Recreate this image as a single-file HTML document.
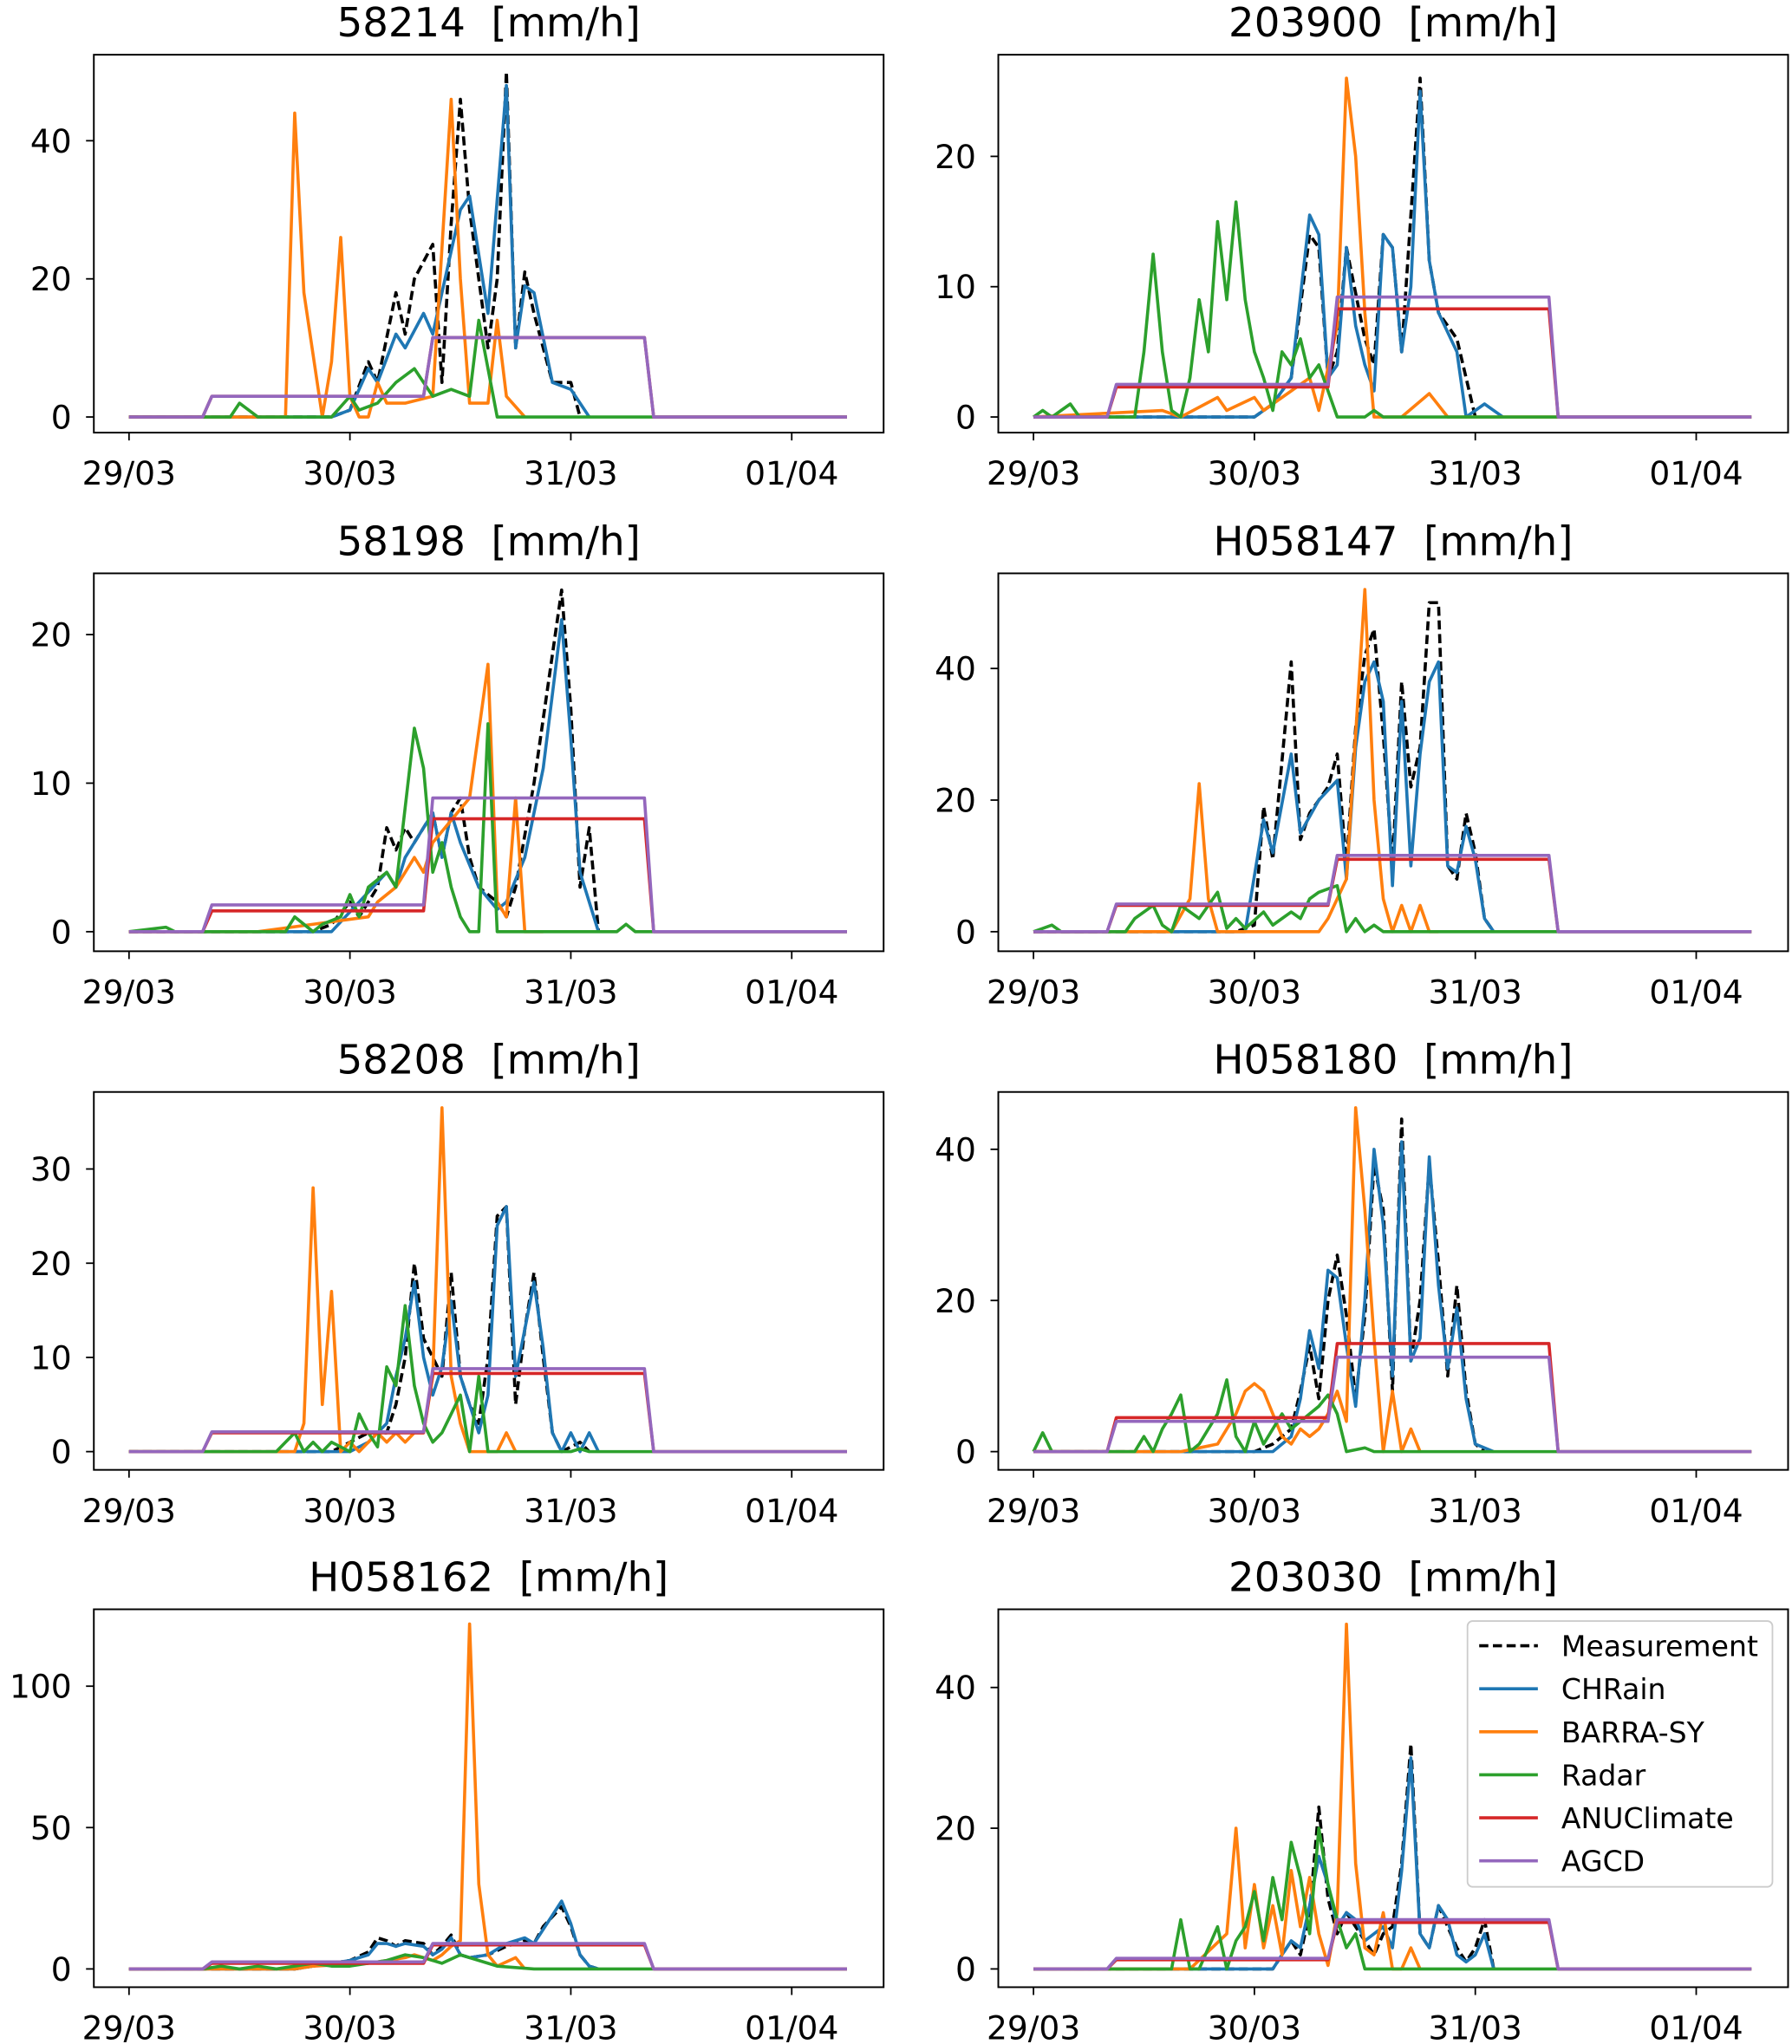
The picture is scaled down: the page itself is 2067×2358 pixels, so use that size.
<!DOCTYPE html>
<html><head><meta charset="utf-8"><style>
html,body{margin:0;padding:0;background:#fff;}
svg{display:block;font-family:"DejaVu Sans","Liberation Sans",sans-serif;}
</style></head><body>
<svg id="fig" width="2067" height="2358" viewBox="0 0 1375 1568.6" preserveAspectRatio="none" xmlns="http://www.w3.org/2000/svg"></svg>
<script>
// ---- data (hour since 29/03 00:00, mm/h) ----
const titles = ["58214","203900","58198","H058147","58208","H058180","H058162","203030"];
const yTicks = [[0,20,40],[0,10,20],[0,10,20],[0,20,40],[0,10,20,30],[0,20,40],[0,50,100],[0,20,40]];
const xTickLabels = ["29/03","30/03","31/03","01/04"];
const seriesNames = ["Measurement","CHRain","BARRA-SY","Radar","ANUClimate","AGCD"];

const agcdVals = [[3,11.5],[2.5,9.2],[1.8,9],[4.2,11.6],[2.1,8.8],[4,12.5],[2.5,9],[1.5,7]];
const anuVals  = [[3,11.5],[2.3,8.3],[1.4,7.6],[4,11],[2,8.3],[4.5,14.3],[2,8.5],[1.3,6.6]];

const meas = [
 [[0,0],[22,0],[24,1],[26,8],[27,5],[29,18],[30,12],[31,20],[33,25],[34,5],[35,28],[36,46],[37,30],[39,10],[40,20],[41,50],[42,10],[43,21],[44,15],[46,5],[48,5],[49,0]],
 [[0,0],[24,0],[26,1],[28,3],[30,14],[31,13],[32,3],[33,5],[34,13],[36,6],[37,4],[38,14],[39,13],[40,5],[42,26],[43,12],[44,8],[46,6],[48,0]],
 [[0,0],[20,0],[22,0.5],[24,2],[25,1],[27,3],[28,7],[29,5.5],[30,7],[31,6],[33,8],[34,5],[35,8],[36,9],[37,5],[38,3],[40,2],[41,1],[42,3],[44,10],[47,23],[48,15],[49,3],[50,7],[51,0]],
 [[0,0],[22,0],[24,1],[25,19],[26,11],[28,41],[29,14],[30,18],[31,20],[32,22],[33,27],[34,10],[35,31],[36,42],[37,46],[38,30],[39,10],[40,38],[41,22],[42,28],[43,50],[44,50],[45,10],[46,8],[47,18],[48,12],[49,2],[50,0]],
 [[0,0],[22,0],[24,1],[26,2],[28,2],[29,5],[30,10],[31,20],[32,12],[34,8],[35,19],[36,8],[37,5],[38,3],[39,10],[40,25],[41,26],[42,5],[43,13],[44,19],[45,10],[46,2],[47,0],[49,1],[50,0]],
 [[0,0],[24,0],[26,1],[28,3],[29,8],[30,14],[31,7],[32,20],[33,26],[34,18],[35,7],[36,18],[37,38],[38,32],[39,8],[40,44],[41,12],[42,20],[43,38],[44,25],[45,10],[46,22],[47,8],[48,1],[49,0]],
 [[0,0],[18,0],[20,1],[22,2],[24,3],[26,6],[27,11],[28,10],[29,8],[30,10],[32,9],[33,5],[34,8],[35,12],[36,5],[37,4],[39,5],[41,8],[43,10],[44,9],[45,15],[47,22],[48,15],[49,5],[50,1],[51,0]],
 [[0,0],[26,0],[28,4],[29,2],[30,8],[31,23],[32,10],[33,5],[34,8],[35,6],[36,4],[37,2],[38,5],[39,6],[40,15],[41,32],[42,5],[43,3],[44,9],[45,6],[46,3],[47,1],[48,3],[49,7],[50,0]]
];
const chrain = [
 [[0,0],[22,0],[24,1],[26,7],[27,5],[29,12],[30,10],[32,15],[33,12],[36,30],[37,32],[39,15],[41,48],[42,10],[43,19],[44,18],[46,5],[48,4],[50,0]],
 [[0,0],[24,0],[26,1],[28,3],[30,15.5],[31,14],[32,3],[33,4],[34,13],[35,7],[36,4],[37,2],[38,14],[39,13],[40,5],[41,10],[42,25],[43,12],[44,8],[46,5],[47,0],[49,1],[51,0]],
 [[0,0],[22,0],[25,2],[28,4],[29,3],[30,5],[33,8],[34,5],[35,8],[36,6],[38,3],[40,1.5],[41,2],[43,5],[45,11],[47,21],[48,13],[49,4],[51,0]],
 [[0,0],[23,0],[25,17],[26,12],[28,27],[29,15],[31,20],[33,23],[34,8],[35,28],[36,38],[37,41],[38,35],[39,7],[40,35],[41,10],[42,27],[43,38],[44,41],[45,10],[46,9],[47,16],[48,11],[49,2],[50,0]],
 [[0,0],[24,0],[26,1],[28,3],[29,8],[30,12],[31,18],[32,10],[33,6],[34,9],[35,16],[36,8],[37,5],[38,2],[39,6],[40,24],[41,26],[42,8],[43,13],[44,18],[45,11],[46,2],[47,0],[48,2],[49,0],[50,2],[51,0]],
 [[0,0],[26,0],[28,2],[29,7],[30,16],[31,11],[32,24],[33,23],[34,14],[35,6],[36,20],[37,40],[38,30],[39,10],[40,41],[41,12],[42,15],[43,39],[44,22],[45,11],[46,19],[47,7],[48,1],[50,0]],
 [[0,0],[18,0],[20,1],[22,2],[24,3],[26,5],[27,9],[28,9],[29,8],[30,9],[32,8],[33,5],[34,7],[35,11],[36,5],[37,4],[39,5],[41,9],[43,11],[44,9],[45,14],[47,24],[48,16],[49,5],[50,1],[51,0]],
 [[0,0],[26,0],[28,4],[29,3],[30,9],[31,16],[32,12],[33,6],[34,8],[35,7],[36,4],[38,6],[39,3],[40,14],[41,30],[42,5],[43,3],[44,9],[45,7],[46,2],[47,1],[48,2],[49,5],[50,0]]
];
const barra = [
 [[0,0],[17,0],[18,44],[19,18],[21,0],[22,8],[23,26],[24,3],[25,0],[26,0],[27,5],[28,2],[30,2],[33,3],[35,46],[36,20],[37,2],[39,2],[40,14],[41,3],[43,0]],
 [[0,0],[14,0.5],[16,0],[20,1.5],[21,0.5],[24,1.5],[25,0.5],[28,2],[30,3],[31,0.5],[33,7],[34,26],[35,20],[36,8],[37,0],[40,0],[43,1.8],[45,0],[57,0]],
 [[0,0],[14,0],[20,0.5],[26,1],[27,2],[29,3],[30,4],[31,5],[32,4],[33,6],[35,7.5],[37,9],[39,18],[40,2],[41,1],[42,9],[43,0],[45,0]],
 [[0,0],[15,0],[17,5],[18,22.5],[19,5],[20,0],[31,0],[32,2],[33,5],[34,8],[35,30],[36,52],[37,20],[38,5],[39,0],[40,4],[41,0],[42,4],[43,0],[44,0]],
 [[0,0],[18,0],[19,3],[20,28],[21,5],[22,17],[23,0],[24,1],[25,0],[27,2],[28,1],[29,2],[30,1],[31,2],[32,2],[33,8],[34,36.5],[35,8],[36,3],[37,0],[40,0],[41,2],[42,0]],
 [[0,0],[16,0],[20,1],[22,5],[23,8],[24,9],[25,8],[26,5],[27,2],[28,1],[29,3],[30,2],[31,3],[32,5],[33,8],[34,4],[35,45.5],[36,32],[37,15],[38,0],[39,8],[40,0],[41,3],[42,0]],
 [[0,0],[18,0],[20,1],[26,2],[30,4],[31,5],[33,3],[34,5],[35,8],[36,10],[37,122],[38,30],[39,5],[40,1],[42,4],[43,0]],
 [[0,0],[17,0],[21,5],[22,20],[23,3],[24,12],[25,3],[26,9],[27,2],[28,14],[29,6],[30,13],[31,5],[32,0.5],[33,8],[34,49],[35,15],[36,3],[37,2],[38,8],[39,0],[40,0],[41,3],[42,0]]
];
const radar = [
 [[0,0],[11,0],[12,2],[14,0],[22,0],[24,3],[25,1],[27,2],[29,5],[31,7],[33,3],[35,4],[37,3],[38,14],[40,0],[78,0]],
 [[0,0],[1,0.5],[2,0],[3,0.5],[4,1],[5,0],[11,0],[12,5],[13,12.5],[14,5],[15,0.5],[16,0],[17,3],[18,9],[19,5],[20,15],[21,9],[22,16.5],[23,9],[24,5],[25,3],[26,0.5],[27,5],[28,4],[29,6],[30,3],[31,4],[33,0],[36,0],[37,0.5],[38,0],[78,0]],
 [[0,0],[4,0.3],[5,0],[17,0],[18,1],[20,0],[21,0.5],[23,1],[24,2.5],[25,1],[26,3],[28,4],[29,3],[31,13.7],[32,11],[33,4],[34,6],[35,3],[36,1],[37,0],[38,0],[39,14],[40,0],[53,0],[54,0.5],[55,0],[78,0]],
 [[0,0],[1,0.5],[2,1],[3,0],[10,0],[11,2],[13,4],[14,1],[15,0],[16,4],[18,2],[20,6],[21,0.5],[22,2],[23,0.5],[25,3],[26,1],[27,2],[28,3],[29,2],[30,5],[31,6],[32,6.5],[33,7],[34,0],[35,2],[36,0],[37,1],[38,0],[78,0]],
 [[0,0],[16,0],[17,1],[18,2],[19,0],[20,1],[21,0],[22,1],[23,0.5],[24,0],[25,4],[26,2],[27,0.5],[28,9],[29,7],[30,15.5],[31,7],[32,3],[33,1],[34,2],[35,4],[36,6],[37,0],[38,8],[39,0],[48,0],[49,0.3],[50,0],[78,0]],
 [[0,0],[1,2.5],[2,0],[11,0],[12,2],[13,0],[14,3],[15,5],[16,7.5],[17,0],[18,1],[19,3],[20,5],[21,9.5],[22,2],[23,0],[24,4],[25,1],[26,3],[27,5],[28,3],[29,4],[30,5],[31,6],[32,7.5],[33,5],[34,0],[36,0.5],[37,0],[78,0]],
 [[0,0],[8,0],[10,1],[12,0],[14,1],[16,0],[20,2],[22,1],[24,1],[28,3],[30,5],[32,4],[34,2],[36,5],[38,3],[40,1],[44,0],[78,0]],
 [[0,0],[15,0],[16,7],[17,0],[18,0],[19,3],[20,6],[21,0],[22,4],[23,6],[24,11],[25,4],[26,13],[27,7],[28,18],[29,13],[30,5],[31,20],[32,12],[33,7],[34,3],[35,5],[36,0],[78,0]]
];

// ---- layout ----
const NS="http://www.w3.org/2000/svg";
const svg=document.getElementById('fig');
const colX=[72,766], rowY=[42,440,838,1235], PW=606, PH=290;
const zeroOff=[278,278,275,275,276,276,276,276];
const pxPerUnit=[5.3,10,11.4,5.05,7.23,5.8,2.17,5.4];
const pxPerHour=169.5/24, x0Off=27;
const colors={meas:"#000",chrain:"#1f77b4",barra:"#ff7f0e",radar:"#2ca02c",anu:"#d62728",agcd:"#9467bd"};

function mk(tag,attrs,parent){const e=document.createElementNS(NS,tag);for(const k in attrs)e.setAttribute(k,attrs[k]);(parent||svg).appendChild(e);return e;}
function stepSeries(v){return [[0,0],[8,0],[9,v[0]],[32,v[0]],[33,v[1]],[56,v[1]],[57,0],[78,0]];}

for(let p=0;p<8;p++){
  const L=colX[p%2], T=rowY[Math.floor(p/2)];
  const xs=h=>L+x0Off+h*pxPerHour;
  const ys=v=>T+zeroOff[p]-v*pxPerUnit[p];
  const g=mk('g',{});
  
  
  const t=mk('text',{x:L+PW/2,y:T-14,'text-anchor':'middle','font-size':31,fill:'#000','xml:space':'preserve'},g);
  t.textContent=titles[p]+"\u00a0\u00a0[mm/h]";
  
  
  const clipId='c'+p;
  const cp=mk('clipPath',{id:clipId},g); mk('rect',{x:L,y:T,width:PW,height:PH},cp);
  const lg=mk('g',{'clip-path':'url(#'+clipId+')'},g);
  const draw=(pts,col,name,dash)=>{
    const d=pts.map((q,i)=>(i?'L':'M')+xs(q[0]).toFixed(2)+','+ys(q[1]).toFixed(2)).join('');
    const a={d:d,fill:'none',stroke:col,'stroke-width':2.4,'stroke-linejoin':'round'};
    if(dash)a['stroke-dasharray']='7,3.5';
    const e=mk('path',a,lg);
    
    
  };
  draw(meas[p],colors.meas,'measurement-line',true);
  draw(chrain[p],colors.chrain,'chrain-line');
  draw(barra[p],colors.barra,'barra-sy-line');
  draw(radar[p],colors.radar,'radar-line');
  draw(stepSeries(anuVals[p]),colors.anu,'anuclimate-line');
  draw(stepSeries(agcdVals[p]),colors.agcd,'agcd-line');
  const fr=mk('rect',{x:L,y:T,width:PW,height:PH,fill:'none',stroke:'#000','stroke-width':1.3},g);
  
  
  xTickLabels.forEach((lab,i)=>{
    const x=xs(i*24);
    mk('line',{x1:x,y1:T+PH,x2:x,y2:T+PH+6,stroke:'#000','stroke-width':1.2},g);
    const tx=mk('text',{x:x,y:T+PH+40,'text-anchor':'middle','font-size':25,fill:'#000'},g);
    tx.textContent=lab;
    
    
  });
  yTicks[p].forEach(v=>{
    const y=ys(v);
    mk('line',{x1:L-6,y1:y,x2:L,y2:y,stroke:'#000','stroke-width':1.2},g);
    const ty=mk('text',{x:L-17,y:y+9,'text-anchor':'end','font-size':25,fill:'#000'},g);
    ty.textContent=v;
    
    
  });
}
// legend
const lgG=mk('g',{});


mk('rect',{x:1126,y:1244,width:234,height:204,rx:4,fill:'#fff','fill-opacity':0.85,stroke:'#ccc','stroke-width':1.2},lgG);
const legCols=[colors.meas,colors.chrain,colors.barra,colors.radar,colors.anu,colors.agcd];
seriesNames.forEach((n,i)=>{
  const y=1263+i*33;
  const ln=mk('line',{x1:1135,y1:y,x2:1180,y2:y,stroke:legCols[i],'stroke-width':2.4},lgG);
  if(i===0)ln.setAttribute('stroke-dasharray','7,3.5');
  const t=mk('text',{x:1198,y:y+8,'font-size':22,fill:'#000'},lgG);
  t.textContent=n;
  
  
});
</script>
</body></html>
